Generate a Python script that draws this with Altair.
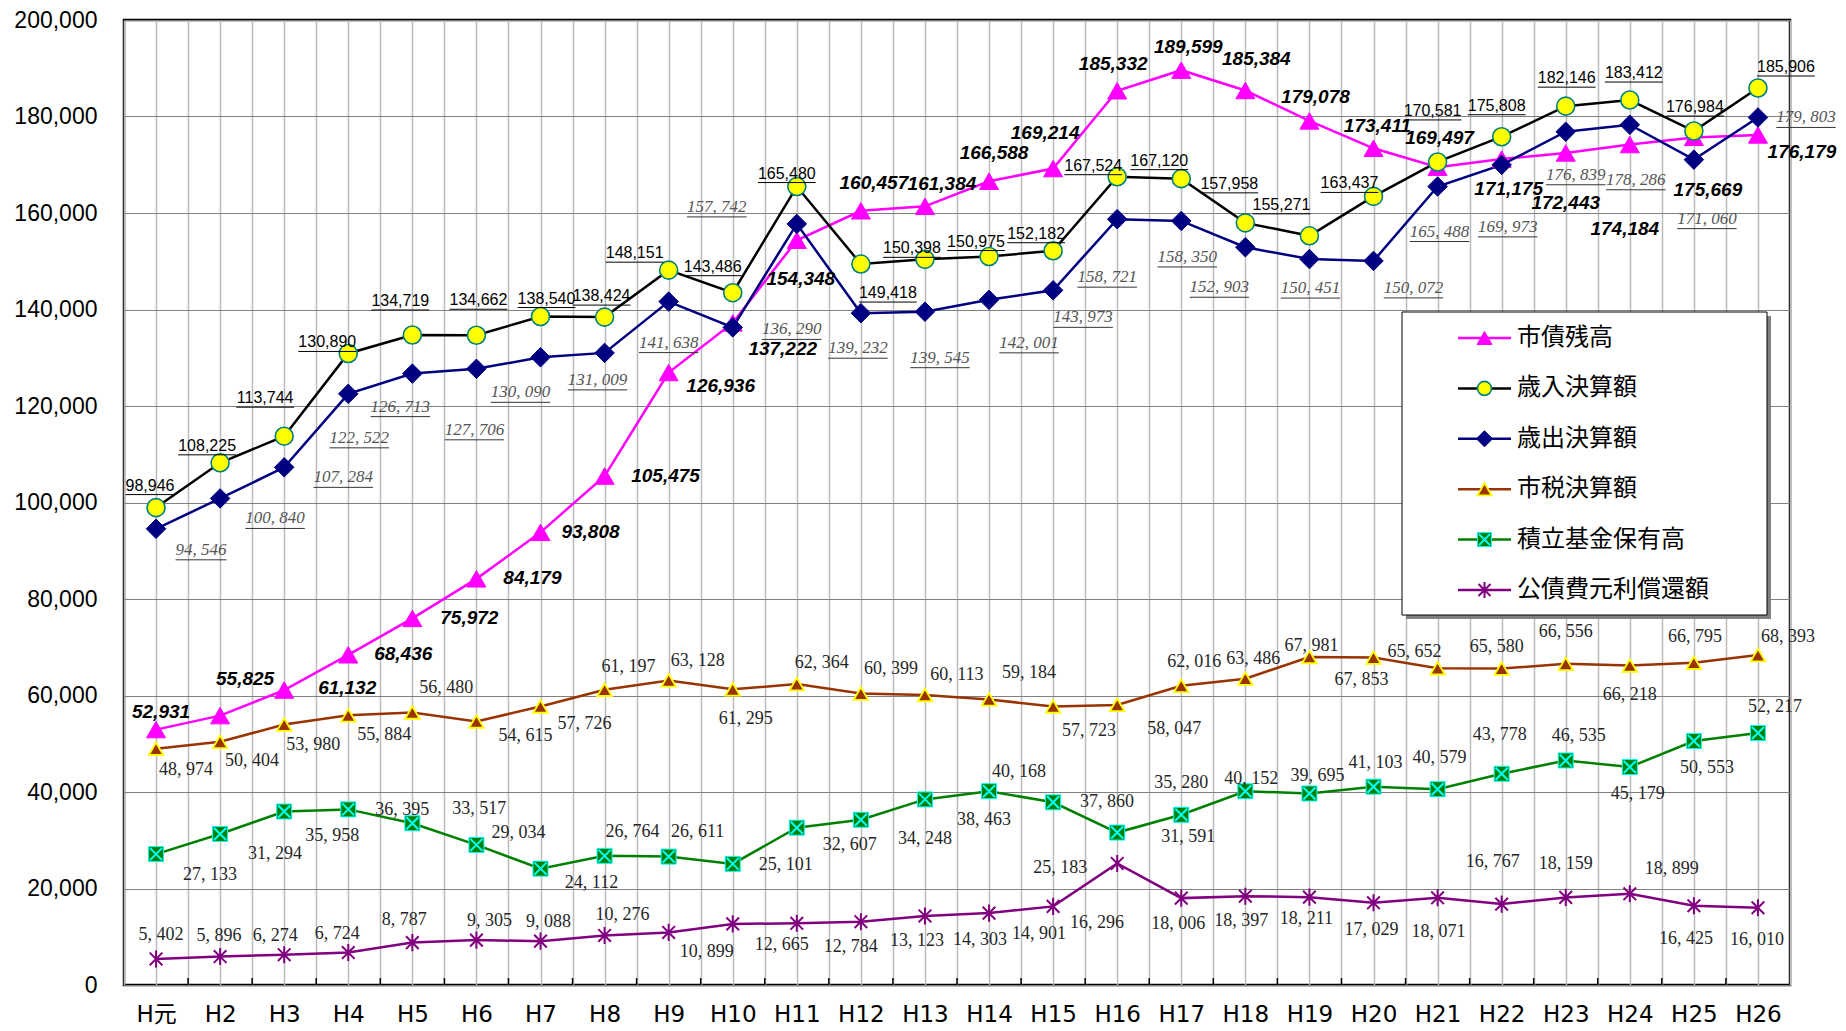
import json
import altair as alt
import pandas as pd

# ---------------- data ----------------
years = ["H元", "H2", "H3", "H4", "H5", "H6", "H7", "H8", "H9", "H10", "H11", "H12", "H13",
         "H14", "H15", "H16", "H17", "H18", "H19", "H20", "H21", "H22", "H23", "H24", "H25", "H26"]

debt = [52931, 55825, 61132, 68436, 75972, 84179, 93808, 105475, 126936, 137222, 154348, 160457, 161384,
        166588, 169214, 185332, 189599, 185384, 179078, 173411, 169497, 171175, 172443, 174184, 175669, 176179]
revenue = [98946, 108225, 113744, 130890, 134719, 134662, 138540, 138424, 148151, 143486, 165480, 149418, 150398,
           150975, 152182, 167524, 167120, 157958, 155271, 163437, 170581, 175808, 182146, 183412, 176984, 185906]
expenditure = [94546, 100840, 107284, 122522, 126713, 127706, 130090, 131009, 141638, 136290, 157742, 139232, 139545,
               142001, 143973, 158721, 158350, 152903, 150451, 150072, 165488, 169973, 176839, 178286, 171060, 179803]
tax = [48974, 50404, 53980, 55884, 56480, 54615, 57726, 61197, 63128, 61295, 62364, 60399, 60113,
       59184, 57723, 58047, 62016, 63486, 67981, 67853, 65652, 65580, 66556, 66218, 66795, 68393]
fund = [27133, 31294, 35958, 36395, 33517, 29034, 24112, 26764, 26611, 25101, 32607, 34248, 38463,
        40168, 37860, 31591, 35280, 40152, 39695, 41103, 40579, 43778, 46535, 45179, 50553, 52217]
bond = [5402, 5896, 6274, 6724, 8787, 9305, 9088, 10276, 10899, 12665, 12784, 13123, 14303,
        14901, 16296, 25183, 18006, 18397, 18211, 17029, 18071, 16767, 18159, 18899, 16425, 16010]

series_names = ["市債残高", "歳入決算額", "歳出決算額", "市税決算額", "積立基金保有高", "公債費元利償還額"]

# ---------------- label layout (pixel offsets from each point) ----------------
debt_off = [(5, -18), (25, -37), (63, -2), (55, -1), (57, 0), (56, -1), (50, 0), (61, 0), (52, 13), (50, 26),
            (4, 39), (13, -28), (17, -22), (5, -28), (-8, -36), (-4, -27), (7, -23), (11, -32), (6, -24),
            (4, -22), (2, -29), (7, 30), (0, 50), (-5, 84), (14, 53), (44, 17)]
rev_off = [(-6, -22), (-13, -17), (-19, -38), (-21, -11), (-12, -34), (2, -35), (6, -18), (-3, -21), (-34, -17),
           (-20, -26), (-10, -13), (27, 29), (-13, -11), (-13, -15), (-17, -17), (-24, -11), (-22, -18),
           (-16, -39), (-28, -31), (-24, -13), (-5, -51), (-5, -31), (1, -28), (4, -27), (1, -24), (28, -21)]
exp_off = [(45, 21), (55, 20), (59, 10), (11, 44), (-12, 33), (-2, 61), (-20, 35), (-7, 27), (0, 41), (59, 2),
           (-80, -17), (-3, 35), (15, 46), (40, 43), (30, 27), (-10, 58), (6, 36), (-26, 40), (1, 29), (40, 27),
           (2, 45), (6, 62), (10, 43), (6, 55), (13, 59), (48, 0)]
tax_off = [(30, 21), (32, 19), (29, 20), (36, 20), (34, -24), (49, 15), (44, 18), (24, -23), (29, -19), (13, 30),
           (25, -21), (30, -25), (32, -20), (40, -26), (36, 25), (57, 24), (13, -24), (8, -20), (2, -11),
           (-12, 22), (-23, -16), (-5, -22), (0, -32), (0, 30), (1, -26), (30, -18)]
fund_off = [(54, 21), (55, 20), (48, 24), (54, 1), (67, -14), (42, -12), (51, 14), (28, -24), (29, -25), (53, 1),
            (53, 17), (64, 19), (59, 21), (30, -19), (54, 0), (71, 4), (0, -32), (6, -12), (8, -17), (2, -24),
            (2, -31), (-2, -39), (13, -24), (8, 27), (13, 27), (17, -26)]
bond_off = [(5, -24), (-1, -21), (-9, -19), (-11, -19), (-8, -23), (13, -19), (8, -19), (18, -20), (38, 20),
            (49, 21), (54, 24), (56, 19), (55, 24), (50, 21), (44, 17), (-57, 5), (-3, 26), (-4, 25), (-3, 22),
            (-2, 27), (1, 34), (-9, -42), (0, -33), (42, -25), (-8, 33), (-1, 32)]

W, H = 1666, 965
YMAX = 200000
STEP = W / len(years)
VPX = H / YMAX

SANS = "Liberation Sans, Arial, sans-serif"
SERIF = "Liberation Serif, Times New Roman, serif"
CJK = "Noto Sans CJK JP, sans-serif"
XFONT = "DejaVu Sans, Noto Sans CJK JP, sans-serif"

xs = alt.Scale(domain=[-0.5, len(years) - 0.5], nice=False, zero=False)
ys = alt.Scale(domain=[0, YMAX], nice=False, zero=True)

x_label_expr = "datum.value % 1 == 0 ? " + json.dumps(years, ensure_ascii=False) + "[datum.value] : ''"
xaxis = alt.Axis(values=[k * 0.5 - 0.5 for k in range(2 * len(years) + 1)], labelExpr=x_label_expr,
                 ticks=False, domain=False, grid=True, gridColor="#BBBBBB", gridWidth=1.5,
                 labelFontSize=23, labelFont=XFONT, labelColor="black", labelPadding=18,
                 labelAngle=0, labelOverlap=False, labelFlush=False, title=None)
yaxis = alt.Axis(values=list(range(0, YMAX + 1, 20000)), format=",d", ticks=False, domain=False, grid=True,
                 gridColor="#808080", gridWidth=1.2, labelFontSize=23, labelFont=SANS, labelColor="black",
                 labelPadding=27, title=None)


def X(f):
    return alt.X(f + ":Q", scale=xs, axis=xaxis)


def Y(f):
    return alt.Y(f + ":Q", scale=ys, axis=yaxis)


def base_df(values):
    return pd.DataFrame({"i": list(range(len(values))), "v": values})


def text_width(t, digit, comma, space):
    w = 0.0
    for ch in t:
        if ch.isdigit():
            w += digit
        elif ch == ",":
            w += comma
        else:
            w += space
    return w


def label_df(values, offs, fmt, fsize=16, digit=0.556, comma=0.278, space=0.25, under=9):
    rows = []
    for i, (v, (dx, dy)) in enumerate(zip(values, offs)):
        t = fmt(v)
        w = text_width(t, digit * fsize, comma * fsize, space * fsize)
        lx = i + dx / STEP
        rows.append({"i": i, "v": v, "t": t, "lx": lx, "ly": v - dy / VPX,
                     "ux1": lx - w / 2 / STEP, "ux2": lx + w / 2 / STEP, "uy": v - (dy + under) / VPX})
    return pd.DataFrame(rows)


def plain(v):
    return f"{v:,}"


def spaced(v):
    return f"{v:,}".replace(",", ", ")


ASTER = "M-1,-1L1,1M-1,1L1,-1M0,-1.35L0,1.35"
XMARK = "M-1,-1L1,1M-1,1L1,-1"

layers = []


def line_layer(values, color):
    return alt.Chart(base_df(values)).mark_line(color=color, strokeWidth=2.5).encode(x=X("i"), y=Y("v"))


def pts(values, **kw):
    return alt.Chart(base_df(values)).mark_point(opacity=1, **kw).encode(x=X("i"), y=Y("v"))


# lines
layers.append(line_layer(debt, "#FF00FF"))
layers.append(line_layer(revenue, "#000000"))
layers.append(line_layer(expenditure, "#000080"))
layers.append(line_layer(tax, "#993300"))
layers.append(line_layer(fund, "#008000"))
layers.append(line_layer(bond, "#800080"))

# markers
layers.append(pts(debt, shape="triangle-up", filled=True, fill="#FF00FF", stroke="#FF00FF", strokeWidth=1, size=361))
layers.append(pts(revenue, shape="circle", filled=True, fill="#FFFF00", stroke="#008080", strokeWidth=1.6, size=324))
layers.append(pts(expenditure, shape="diamond", filled=True, fill="#000080", stroke="#000080", strokeWidth=1, size=380))
layers.append(pts(tax, shape="triangle-up", filled=True, fill="#993300", stroke="#FFFF00", strokeWidth=1.8, size=210))
layers.append(pts(fund, shape="square", filled=True, fill="#008000", stroke="#00FFFF", strokeWidth=1, size=225))
layers.append(pts(fund, shape=XMARK, filled=False, stroke="#00FFFF", strokeWidth=2, size=144))
layers.append(pts(bond, shape=ASTER, filled=False, stroke="#800080", strokeWidth=2, size=160))

# bottom boundary ticks
ticks_df = pd.DataFrame({"b": [k + 0.5 for k in range(len(years) - 1)]})
layers.append(alt.Chart(ticks_df).mark_rule(color="black", strokeWidth=1.5).encode(
    x=X("b"), y=alt.value(H - 7), y2=alt.value(H)))

# labels
rev_lab = label_df(revenue, rev_off, plain, fsize=16, under=9)
exp_lab = label_df(expenditure, exp_off, spaced, fsize=17, digit=0.5, comma=0.25, space=0.25, under=10)
debt_lab = label_df(debt, debt_off, plain)
tax_lab = label_df(tax, tax_off, spaced)
fund_lab = label_df(fund, fund_off, spaced)
bond_lab = label_df(bond, bond_off, spaced)


def txt(df, **kw):
    return alt.Chart(df).mark_text(align="center", baseline="middle", **kw).encode(
        x=X("lx"), y=Y("ly"), text="t:N")


def underline(df, color):
    return alt.Chart(df).mark_rule(color=color, strokeWidth=1).encode(
        x=X("ux1"), x2="ux2:Q", y=Y("uy"))


layers.append(txt(tax_lab, font=SERIF, fontSize=18, color="#262626"))
layers.append(txt(fund_lab, font=SERIF, fontSize=18, color="#262626"))
layers.append(txt(bond_lab, font=SERIF, fontSize=18, color="#262626"))
layers.append(txt(exp_lab, font=SERIF, fontSize=17, fontStyle="italic", color="#555555"))
layers.append(underline(exp_lab, "#333333"))
layers.append(txt(rev_lab, font=SANS, fontSize=16, color="#000000"))
layers.append(underline(rev_lab, "#000000"))
layers.append(txt(debt_lab, font=SANS, fontSize=19, fontStyle="italic", fontWeight="bold", color="#000000"))

# ---------------- legend (drawn inside the plot) ----------------
LX0, LX1, LY0, LY1 = 1278, 1643, 292, 595
one = pd.DataFrame({"k": [0]})
layers.append(alt.Chart(one).mark_rect(fill="#808080").encode(
    x=alt.value(LX0 + 4), x2=alt.value(LX1 + 4), y=alt.value(LY0 + 4), y2=alt.value(LY1 + 4)))
layers.append(alt.Chart(one).mark_rect(fill="white", stroke="black", strokeWidth=1).encode(
    x=alt.value(LX0), x2=alt.value(LX1), y=alt.value(LY0), y2=alt.value(LY1)))

leg_line_colors = ["#FF00FF", "#000000", "#000080", "#993300", "#008000", "#800080"]
leg_marks = [
    [dict(shape="triangle-up", filled=True, fill="#FF00FF", stroke="#FF00FF", strokeWidth=1, size=225)],
    [dict(shape="circle", filled=True, fill="#FFFF00", stroke="#008080", strokeWidth=1.6, size=196)],
    [dict(shape="diamond", filled=True, fill="#000080", stroke="#000080", strokeWidth=1, size=260)],
    [dict(shape="triangle-up", filled=True, fill="#993300", stroke="#FFFF00", strokeWidth=1.8, size=200)],
    [dict(shape="square", filled=True, fill="#008000", stroke="#00FFFF", strokeWidth=1, size=196),
     dict(shape=XMARK, filled=False, stroke="#00FFFF", strokeWidth=2, size=121)],
    [dict(shape=ASTER, filled=False, stroke="#800080", strokeWidth=2, size=144)],
]
for k, name in enumerate(series_names):
    yc = 318 + 50.4 * k
    d = pd.DataFrame({"name": [name]})
    layers.append(alt.Chart(d).mark_rule(color=leg_line_colors[k], strokeWidth=2.5).encode(
        x=alt.value(1334), x2=alt.value(1387), y=alt.value(yc)))
    for mk in leg_marks[k]:
        layers.append(alt.Chart(d).mark_point(opacity=1, **mk).encode(x=alt.value(1360.5), y=alt.value(yc)))
    layers.append(alt.Chart(d).mark_text(align="left", baseline="middle", font=CJK, fontSize=24,
                                         color="black").encode(
        x=alt.value(1393), y=alt.value(yc), text="name:N"))

chart = alt.layer(*layers).properties(
    width=W, height=H,
    autosize=alt.AutoSizeParams(type="none"),
    padding={"left": 116, "top": 12, "right": 48, "bottom": 40},
    background="white",
).configure_view(stroke="black", strokeWidth=2.5)

chart.save("out.html", embed_options={"renderer": "svg", "actions": False})
